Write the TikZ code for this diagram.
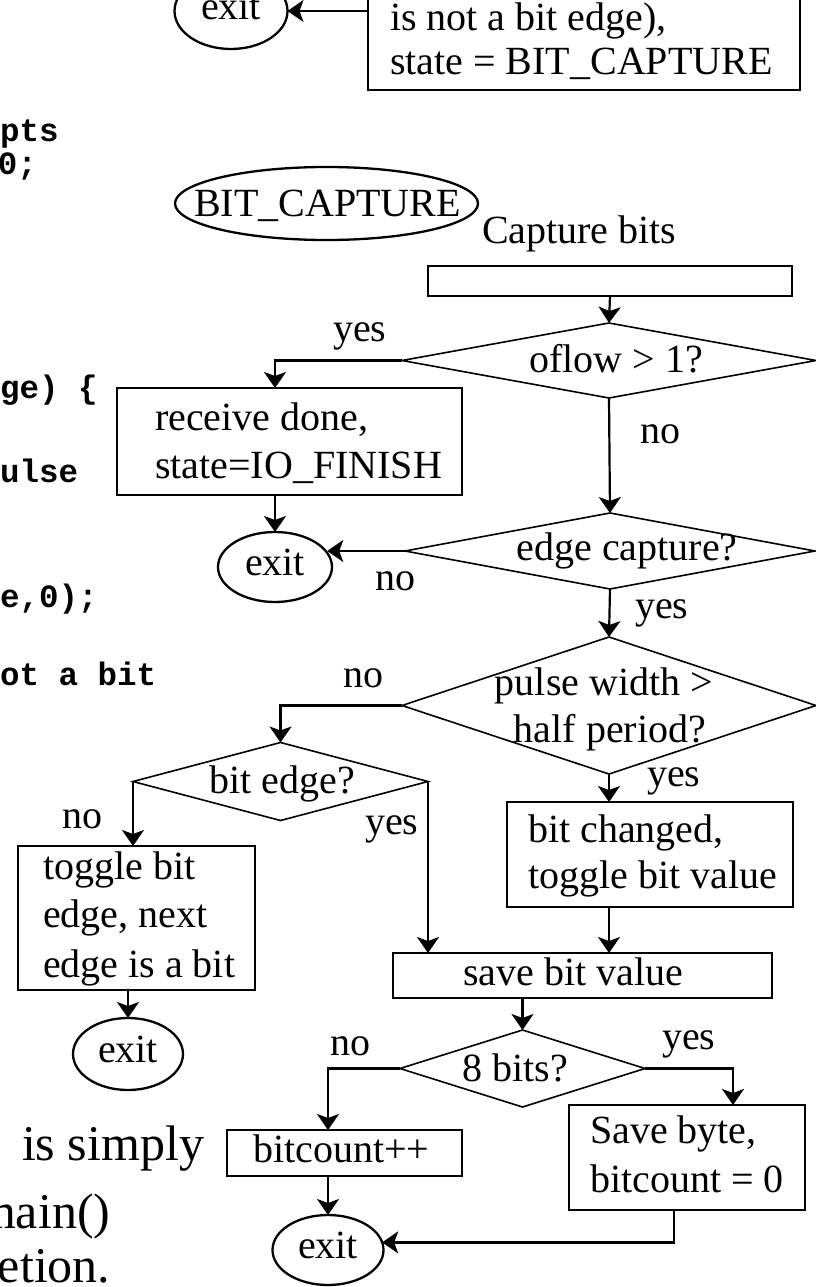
\documentclass[tikz,border=0pt]{standalone}
\usepackage{fontspec}
\setmainfont{Liberation Serif}
\setmonofont{Liberation Mono}
\usetikzlibrary{shapes.geometric,arrows.meta}
\begin{document}
\begin{tikzpicture}[x=1pt,y=-1pt,
  every node/.style={inner sep=0pt, outer sep=0pt},
  flow/.style={font=\fontsize{40}{48}\selectfont},
  txt/.style={flow, anchor=base west},
  lbl/.style={flow, anchor=base},
  code/.style={font=\ttfamily\bfseries\fontsize{32.5}{36}\selectfont, anchor=base west},
  prose/.style={font=\fontsize{50}{60}\selectfont, anchor=base west},
  stepbox/.style={draw, rectangle, line width=2.6pt},
  decision/.style={draw, diamond, line width=1.6pt},
  terminal/.style={draw, ellipse, line width=2.3pt, flow, text height=17pt, text depth=0pt},
  arr/.style={line width=2.2pt, -{Stealth[length=16pt,width=22pt,inset=4pt]}},
]
\useasboundingbox (0,0) rectangle (816,1287);
\clip (0,0) rectangle (816,1287);

% code listing fragments on the left
\node[code] (c1) at (0,142) {pts};
\node[code] (c2) at (-2,174) {0;};
\node[code] (c3) at (0,398) {ge) \{};
\node[code] (c4) at (0,482) {ulse};
\node[code] (c5) at (0,607) {e,0);};
\node[code] (c6) at (0,685) {ot a bit};

% running text at the bottom left
\node[prose] (p1) at (22,1160) {is simply};
\node[prose] (p2) at (-23,1228) {main()};
\node[prose] (p3) at (-2,1282) {etion.};

% top: end of the edge-capture branch
\node[stepbox, minimum width=432pt, minimum height=140pt] (topbox) at (584,20) {};
\node[txt] (tb1) at (390,31) {is not a bit edge),};
\node[txt] (tb2) at (390,75) {state = BIT\_CAPTURE};
\node[terminal, minimum width=113pt, minimum height=76pt] (topexit) at (231,11) {exit};

% BIT_CAPTURE state
\node[draw, ellipse, line width=2.3pt, minimum width=303pt, minimum height=73pt] (bitcap) at (326.5,203.5) {};
\node[lbl] (bitcaplbl) at (327.5,216) {BIT\_CAPTURE};
\node[txt] (captitle) at (482,243) {Capture bits};
\node[stepbox, minimum width=364pt, minimum height=30pt] (capbox) at (610,281) {};

% overflow test
\node[decision, minimum width=414pt, minimum height=75pt] (oflow) at (609,360.5) {};
\node[lbl] (oflowlbl) at (616,372) {oflow > 1?};
\node[stepbox, minimum width=345pt, minimum height=107pt] (recv) at (289.5,441.5) {};
\node[txt] (rv1) at (155,430) {receive done,};
\node[txt] (rv2) at (155,478) {state=IO\_FINISH};
\node[terminal, minimum width=114pt, minimum height=70pt] (exit2) at (275,567) {exit};

% edge capture test
\node[decision, minimum width=410pt, minimum height=76pt] (edge) at (610,551) {};
\node[lbl] (edgelbl) at (627,560) {edge capture?};

% pulse width test
\node[decision, minimum width=414pt, minimum height=137pt] (pulse) at (609,705.5) {};
\node[lbl] (pulselbl1) at (604,695) {pulse width >};
\node[lbl] (pulselbl2) at (610,742) {half period?};

% bit edge test
\node[decision, minimum width=295pt, minimum height=78pt] (bitedge) at (280.5,781.5) {};
\node[lbl] (bitedgelbl) at (282.5,793) {bit edge?};
\node[stepbox, minimum width=237pt, minimum height=144pt] (toggle) at (136.5,918) {};
\node[txt] (tg1) at (43,879) {toggle bit};
\node[txt] (tg2) at (43,927) {edge, next};
\node[txt] (tg3) at (43,977) {edge is a bit};
\node[terminal, minimum width=110pt, minimum height=72pt] (exit3) at (128,1054) {exit};

\node[stepbox, minimum width=286pt, minimum height=105pt] (bitch) at (650,854.5) {};
\node[txt] (bc1) at (528,842) {bit changed,};
\node[txt] (bc2) at (528,888) {toggle bit value};

\node[stepbox, minimum width=379pt, minimum height=45pt] (savebit) at (582.5,975.5) {};
\node[txt] (sbv) at (463,985) {save bit value};

% byte complete test
\node[decision, minimum width=245pt, minimum height=77pt] (eight) at (522.5,1068.5) {};
\node[lbl] (eightlbl) at (515,1081) {8 bits?};
\node[stepbox, minimum width=235pt, minimum height=46pt] (bitcount) at (344.5,1153) {};
\node[txt] (bcnt) at (253,1162) {bitcount++};
\node[stepbox, minimum width=236pt, minimum height=105pt] (savebyte) at (687,1157.5) {};
\node[txt] (sb1) at (590,1143) {Save byte,};
\node[txt] (sb2) at (590,1192) {bitcount = 0};
\node[terminal, minimum width=111pt, minimum height=70pt] (exit4) at (328,1250) {exit};

% branch labels
\node[txt] (y1) at (333,341) {yes};
\node[txt] (n1) at (640,443) {no};
\node[txt] (n2) at (375,590) {no};
\node[txt] (y2) at (635,618) {yes};
\node[txt] (n3) at (343,687) {no};
\node[txt] (y3) at (647,786) {yes};
\node[txt] (n4) at (62,828) {no};
\node[txt] (y4) at (365,834) {yes};
\node[txt] (n5) at (330,1055) {no};
\node[txt] (y5) at (662,1049) {yes};

% connectors
\draw[arr] (topbox.west |- topexit.east) -- (topexit.east);
\draw[arr] (capbox.south) -- (oflow.north);
\draw[arr] (oflow.west) -| (exit2 |- recv.north);
\draw[arr] (exit2 |- recv.south) -- (exit2.north);
\draw[arr] (oflow.south) -- (edge.north);
\draw[arr] (edge.west) -- (edge.west -| exit2.15);
\draw[arr] (edge.south) -- (pulse.north);
\draw[arr] (pulse.west) -| (bitedge.north);
\draw[arr] (bitedge.west) -- (bitedge.west |- toggle.north);
\draw[arr] (bitedge.east) -- (bitedge.east |- savebit.north);
\draw[arr] (pulse.south) -- (pulse.south |- bitch.north);
\draw[arr] (pulse.south |- bitch.south) -- (pulse.south |- savebit.north);
\draw[arr] (exit3 |- toggle.south) -- (exit3.north);
\draw[arr] (eight |- savebit.south) -- (eight.north);
\draw[arr] (eight.west) -| (exit4 |- bitcount.north);
\draw[arr] (eight.east) -| ([xshift=46pt]savebyte.north);
\draw[arr] (exit4 |- bitcount.south) -- (exit4.north);
\draw[arr] ([xshift=-13pt]savebyte.south) |- (exit4.8);
\end{tikzpicture}
\end{document}
